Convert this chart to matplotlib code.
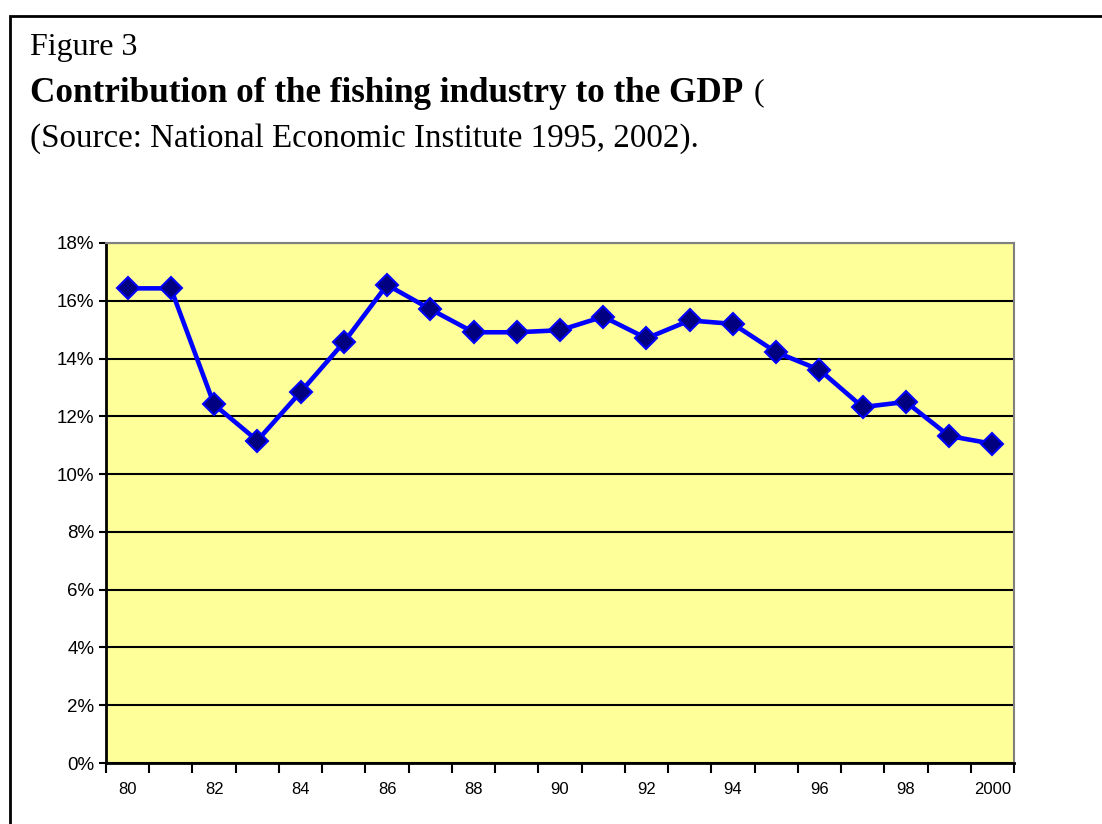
import matplotlib.pyplot as plt
from matplotlib.patches import Rectangle
from matplotlib.ticker import FuncFormatter, FixedLocator
import numpy as np

years = [80, 81, 82, 83, 84, 85, 86, 87, 88, 89, 90,
         91, 92, 93, 94, 95, 96, 97, 98, 99, 2000]
gdp_share = [16.43, 16.43, 12.41, 11.16, 12.84, 14.56, 16.55, 15.71, 14.91, 14.91, 14.98,
             15.45, 14.70, 15.32, 15.20, 14.22, 13.61, 12.32, 12.50, 11.32, 11.05]

fig = plt.figure(figsize=(11.02, 8.24), dpi=100)

# page frame (only top and left visible in the crop)
fig.patches.append(Rectangle((10 / 1102, -0.1), 1.2, 1 - 16 / 824 + 0.1,
                             transform=fig.transFigure, fill=False,
                             edgecolor='black', linewidth=2))

serif = ['Liberation Serif', 'DejaVu Serif']
fig.text(30 / 1102, 1 - 47 / 824, "Figure 3", family=serif, fontsize=23, va='center')
fig.text(30 / 1102, 1 - 93 / 824, "Contribution of the fishing industry to the GDP",
         family=serif, fontsize=25.3, fontweight='bold', va='center')
fig.text(754 / 1102, 1 - 93 / 824, "(", family=serif, fontsize=23, va='center')
fig.text(30 / 1102, 1 - 139 / 824, "(Source: National Economic Institute 1995, 2002).",
         family=serif, fontsize=23.8, va='center')

ax = fig.add_axes([106 / 1102, 1 - 763 / 824, 908 / 1102, 520 / 824])
ax.set_facecolor('#FFFF99')

x = np.arange(len(years))
ax.plot(x, gdp_share, color='#0000FF', linewidth=3.3, marker='D', markersize=11,
        markerfacecolor='#000080', markeredgecolor='#0000FF', markeredgewidth=1.5,
        zorder=3)

ax.set_xlim(-0.5, len(years) - 0.5)
ax.set_ylim(0, 18)
ax.set_yticks(np.arange(0, 19, 2))
ax.yaxis.set_major_formatter(FuncFormatter(lambda v, p: f"{int(v)}%"))
ax.grid(axis='y', color='black', linewidth=1.5)
ax.set_axisbelow(True)

# ticks between categories, labels on every other category
ax.xaxis.set_major_locator(FixedLocator(np.arange(-0.5, len(years), 1.0)))
ax.xaxis.set_major_formatter(plt.NullFormatter())
ax.set_xticks(x[::2], minor=True)
ax.set_xticklabels([str(y) for y in years[::2]], minor=True)
ax.tick_params(axis='x', which='minor', length=0, pad=14)
ax.tick_params(axis='x', which='major', length=7, width=1.5, direction='out')
ax.tick_params(axis='y', length=5, width=1.5, direction='out')
for lab in ax.get_xticklabels(minor=True):
    lab.set_family(['Liberation Sans', 'DejaVu Sans'])
    lab.set_fontsize(12)
for lab in ax.get_yticklabels():
    lab.set_family(['Liberation Sans', 'DejaVu Sans'])
    lab.set_fontsize(13.5)

for s in ['top', 'right']:
    ax.spines[s].set_color('#808080')
    ax.spines[s].set_linewidth(1.5)
for s in ['left', 'bottom']:
    ax.spines[s].set_color('black')
    ax.spines[s].set_linewidth(2)

fig.savefig('out.png', dpi=100)
